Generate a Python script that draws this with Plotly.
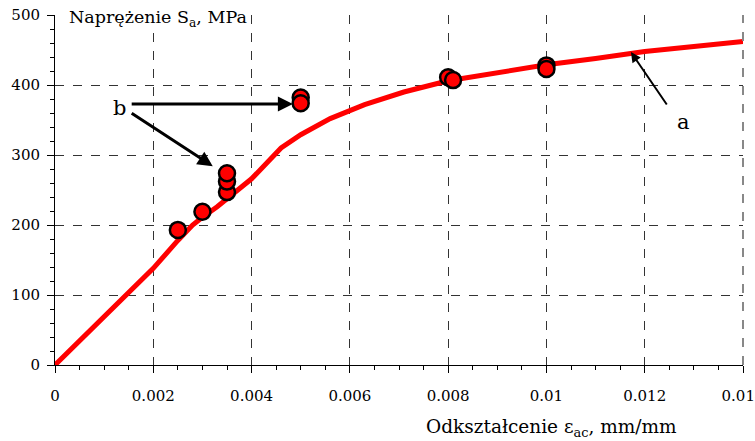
import plotly.graph_objects as go

# Curve a (model)
curve_x = [0, 0.001, 0.002, 0.0025, 0.0028, 0.003, 0.0033, 0.004, 0.0046, 0.005, 0.0056,
           0.0063, 0.0071, 0.008, 0.009, 0.010, 0.011, 0.012, 0.013, 0.014]
curve_y = [0, 70, 138, 178, 200, 211, 226, 266, 310, 329, 352,
           372, 390, 406, 418, 429, 438, 448, 455, 462]

# Experimental points b
pts_x = [0.0025, 0.003, 0.0035, 0.0035, 0.0035, 0.005, 0.005, 0.008, 0.0081, 0.01, 0.01]
pts_y = [193, 219, 247, 262, 274, 382, 374, 411, 407, 428, 423]

x_ticks = [0, 0.002, 0.004, 0.006, 0.008, 0.01, 0.012, 0.014]
x_labels = ["0", "0.002", "0.004", "0.006", "0.008", "0.01", "0.012", "0.014"]
y_ticks = [0, 100, 200, 300, 400, 500]

FONT = "DejaVu Serif"

fig = go.Figure()
fig.add_trace(go.Scatter(x=curve_x, y=curve_y, mode="lines",
                         line=dict(color="#ff0000", width=5), showlegend=False))
fig.add_trace(go.Scatter(x=pts_x, y=pts_y, mode="markers",
                         marker=dict(color="#ff0000", size=16, line=dict(color="black", width=2.5)),
                         showlegend=False))

grid = dict(showgrid=True, gridcolor="#333333", griddash="dash", gridwidth=1)
fig.update_xaxes(range=[0, 0.014], tickvals=x_ticks, ticktext=x_labels,
                 showline=True, linecolor="black", linewidth=1,
                 ticks="outside", ticklen=7, tickcolor="black",
                 minor=dict(dtick=0.0005, ticks="outside", ticklen=4, tickcolor="black", showgrid=False),
                 ticklabelstandoff=10, ticklabeloverflow="allow", automargin=False, zeroline=False,
                 tickfont=dict(family=FONT, size=15, color="black"), **grid)
fig.update_yaxes(range=[0, 500], tickvals=y_ticks,
                 showline=True, linecolor="black", linewidth=1,
                 ticks="outside", ticklen=7, tickcolor="black",
                 minor=dict(dtick=20, ticks="outside", ticklen=4, tickcolor="black", showgrid=False),
                 ticklabelstandoff=4, automargin=False, zeroline=False,
                 tickfont=dict(family=FONT, size=15, color="black"), **grid)

# right border (gray dashed) as in the reference
fig.add_shape(type="line", xref="paper", yref="paper", x0=1, x1=1, y0=0, y1=1,
              line=dict(color="#888888", width=2, dash="dash"))

ann = [
    dict(x=0.0174, y=0.991, xref="paper", yref="paper", xanchor="left", yanchor="middle",
         text="Naprężenie S<sub>a</sub>, MPa", showarrow=False, bgcolor="white",
         font=dict(family=FONT, size=17.5, color="black")),
    dict(x=0.721, y=-0.18, xref="paper", yref="paper", xanchor="center", yanchor="middle",
         text="Odkształcenie ε<sub>ac</sub>, mm/mm", showarrow=False,
         font=dict(family=FONT, size=18.5, color="black")),
    dict(x=0.00132, y=367, text="b", showarrow=False,
         font=dict(family=FONT, size=21, color="black")),
    dict(x=0.01278, y=347, text="a", showarrow=False,
         font=dict(family=FONT, size=21, color="black")),
    dict(x=0.00484, y=373, ax=0.00153, ay=373, axref="x", ayref="y", text="",
         showarrow=True, arrowhead=2, arrowsize=1, arrowwidth=3, arrowcolor="black"),
    dict(x=0.00321, y=284, ax=0.00153, ay=361, axref="x", ayref="y", text="",
         showarrow=True, arrowhead=2, arrowsize=1, arrowwidth=3, arrowcolor="black"),
    dict(x=0.01172, y=447, ax=0.01247, ay=370, axref="x", ayref="y", text="",
         showarrow=True, arrowhead=2, arrowsize=1, arrowwidth=2, arrowcolor="black"),
]
fig.update_layout(width=755, height=441, margin=dict(l=55, r=12, t=15, b=76, autoexpand=False),
                  plot_bgcolor="white", paper_bgcolor="white", annotations=ann,
                  font=dict(family=FONT, color="black"))
fig.write_html("out.html")
